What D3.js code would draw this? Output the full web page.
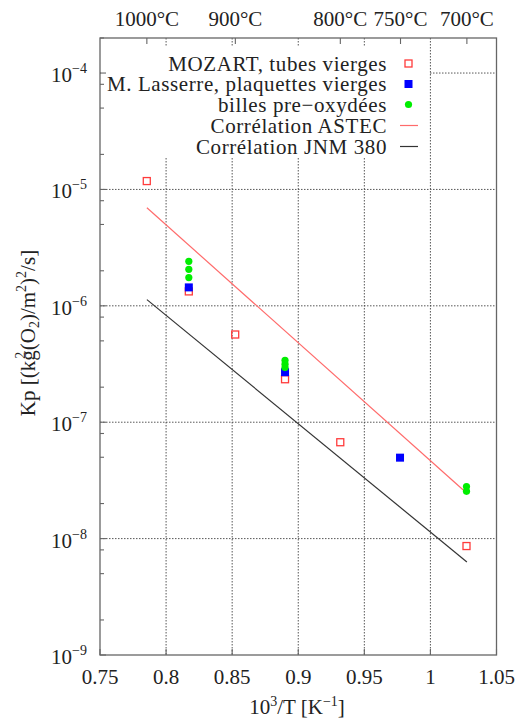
<!DOCTYPE html>
<html>
<head>
<meta charset="utf-8">
<script src="https://cdn.jsdelivr.net/npm/d3@7"></script>
<style>
  html, body { margin: 0; padding: 0; background: #fff; }
  svg { display: block; }
  text { font-family: "Liberation Serif", "Times New Roman", serif; fill: #222; }
</style>
</head>
<body>
<svg id="chart" width="519" height="722"></svg>
<script>
// ---- data ----
const xTickValues = [0.75, 0.8, 0.85, 0.9, 0.95, 1.0, 1.05];
const xTickLabels = ["0.75", "0.8", "0.85", "0.9", "0.95", "1", "1.05"];
const yExponents = [-9, -8, -7, -6, -5, -4];
const minorMultipliers = [2, 5, 8];
const tempC = [1000, 900, 800, 750, 700];
const tempLabels = ["1000°C", "900°C", "800°C", "750°C", "700°C"];

const mozartX = [0.7854, 0.8172, 0.8523, 0.8900, 0.9318, 1.0273];
const mozartY = [1.18e-5, 1.33e-6, 5.67e-7, 2.34e-7, 6.73e-8, 8.63e-9];
const lasserreX = [0.8172, 0.8900, 0.9770];
const lasserreY = [1.44e-6, 2.69e-7, 4.96e-8];
const billesX = [0.8172, 0.8172, 0.8172, 0.8900, 0.8900, 0.8900, 1.0273, 1.0273];
const billesY = [2.41e-6, 2.06e-6, 1.75e-6, 3.4e-7, 3.15e-7, 2.95e-7, 2.8e-8, 2.55e-8];
const astecX = [0.7855, 1.0276];
const astecY = [6.96e-6, 2.45e-8];
const jnmX = [0.7855, 1.0276];
const jnmY = [1.13e-6, 6.3e-9];

const legendLabels = ["MOZART, tubes vierges", "M. Lasserre, plaquettes vierges",
  "billes pre\u2212oxydées", "Corrélation ASTEC", "Corrélation JNM 380"];

// ---- layout ----
const L = 100, R = 496.5, T = 38, B = 655;
const svg = d3.select("#chart");
const x = d3.scaleLinear().domain([0.75, 1.05]).range([L, R]);
const y = d3.scaleLog().domain([1e-9, 2e-4]).range([B, T]);

const gridColor = "#444";
const axisColor = "#666";

// grid
const g = svg.append("g");
xTickValues.slice(1, -1).forEach(v => {
  g.append("line").attr("x1", x(v)).attr("x2", x(v)).attr("y1", T).attr("y2", B)
    .attr("stroke", gridColor).attr("stroke-width", 0.9).attr("stroke-dasharray", "1.5,1.5");
});
yExponents.slice(1).forEach(e => {
  const v = Math.pow(10, e);
  g.append("line").attr("x1", L).attr("x2", R).attr("y1", y(v)).attr("y2", y(v))
    .attr("stroke", gridColor).attr("stroke-width", 0.9).attr("stroke-dasharray", "1.5,1.5");
});

// opaque legend box
svg.append("rect").attr("x", L + 1).attr("y", 47).attr("width", 428 - L).attr("height", 110)
  .attr("fill", "#fff");

// ticks
const ticks = svg.append("g").attr("stroke", axisColor).attr("stroke-width", 1.1);
xTickValues.forEach(v => {
  ticks.append("line").attr("x1", x(v)).attr("x2", x(v)).attr("y1", B).attr("y2", B - 6);
});
tempC.forEach(t => {
  const v = 1000 / (t + 273.15);
  ticks.append("line").attr("x1", x(v)).attr("x2", x(v)).attr("y1", T).attr("y2", T + 6);
});
yExponents.forEach(e => {
  const v = Math.pow(10, e);
  ticks.append("line").attr("x1", L).attr("x2", L + 6).attr("y1", y(v)).attr("y2", y(v));
  minorMultipliers.forEach(m => {
    const mv = m * v;
    if (mv <= 2e-4) {
      ticks.append("line").attr("x1", L).attr("x2", L + 4).attr("y1", y(mv)).attr("y2", y(mv));
    }
  });
});

// frame
svg.append("rect").attr("x", L).attr("y", T).attr("width", R - L).attr("height", B - T)
  .attr("fill", "none").attr("stroke", axisColor).attr("stroke-width", 1.3);

// tick labels
xTickValues.forEach((v, i) => {
  svg.append("text").attr("x", x(v)).attr("y", 684).attr("text-anchor", "middle")
    .attr("font-size", 21).text(xTickLabels[i]);
});
tempC.forEach((t, i) => {
  const v = 1000 / (t + 273.15);
  svg.append("text").attr("x", x(v)).attr("y", 26).attr("text-anchor", "middle")
    .attr("font-size", 21).text(tempLabels[i]);
});
yExponents.forEach(e => {
  const v = Math.pow(10, e);
  const t = svg.append("text").attr("x", 87).attr("y", y(v) + 9).attr("text-anchor", "end")
    .attr("font-size", 21);
  t.append("tspan").text("10");
  t.append("tspan").attr("font-size", 14).attr("dy", -9).text("\u2212" + Math.abs(e));
});

// axis titles
const xt = svg.append("text").attr("x", 297).attr("y", 714).attr("text-anchor", "middle")
  .attr("font-size", 21);
xt.append("tspan").text("10");
xt.append("tspan").attr("font-size", 14).attr("dy", -8).text("3");
xt.append("tspan").attr("dy", 8).text("/T [K");
xt.append("tspan").attr("font-size", 14).attr("dy", -8).text("\u22121");
xt.append("tspan").attr("dy", 8).text("]");

const yt = svg.append("text").attr("transform", "translate(35,333) rotate(-90)")
  .attr("text-anchor", "middle").attr("font-size", 21);
yt.append("tspan").text("Kp [(kg");
yt.append("tspan").attr("font-size", 14).attr("dx", -8.5).attr("dy", -10).text("2");
yt.append("tspan").attr("dx", 1.5).attr("dy", 10).text("(O");
yt.append("tspan").attr("font-size", 14).attr("dy", 4).text("2");
yt.append("tspan").attr("dy", -4).text(")/m");
yt.append("tspan").attr("font-size", 14).attr("dy", -9).text("2");
yt.append("tspan").attr("dy", 9).text(")");
yt.append("tspan").attr("font-size", 14).attr("dy", -9).text("2");
yt.append("tspan").attr("dy", 9).text("/s]");

// lines
const line = d3.line().x(d => x(d[0])).y(d => y(d[1]));
svg.append("path").datum(astecX.map((v, i) => [v, astecY[i]]))
  .attr("d", line).attr("fill", "none").attr("stroke", "#ff6b6b").attr("stroke-width", 1.2);
svg.append("path").datum(jnmX.map((v, i) => [v, jnmY[i]]))
  .attr("d", line).attr("fill", "none").attr("stroke", "#333").attr("stroke-width", 1.2);

// points
const s = 7;
svg.append("g").selectAll("rect").data(mozartX.map((v, i) => [v, mozartY[i]])).join("rect")
  .attr("x", d => x(d[0]) - s / 2).attr("y", d => y(d[1]) - s / 2)
  .attr("width", s).attr("height", s).attr("fill", "none")
  .attr("stroke", "#ff3b3b").attr("stroke-width", 1.3);
const sb = 8;
svg.append("g").selectAll("rect").data(lasserreX.map((v, i) => [v, lasserreY[i]])).join("rect")
  .attr("x", d => x(d[0]) - sb / 2).attr("y", d => y(d[1]) - sb / 2)
  .attr("width", sb).attr("height", sb).attr("fill", "#0000ff");
svg.append("g").selectAll("circle").data(billesX.map((v, i) => [v, billesY[i]])).join("circle")
  .attr("cx", d => x(d[0])).attr("cy", d => y(d[1])).attr("r", 3.6).attr("fill", "#00ee00");

// legend
const rowsY = [63.5, 84, 104.5, 125.5, 146.5];
legendLabels.forEach((lab, i) => {
  svg.append("text").attr("x", 387).attr("y", rowsY[i] + 7).attr("text-anchor", "end")
    .attr("font-size", 21).attr("letter-spacing", 0.6).text(lab);
});
const mx = 408.5;
svg.append("rect").attr("x", mx - s / 2).attr("y", rowsY[0] - s / 2).attr("width", s).attr("height", s)
  .attr("fill", "none").attr("stroke", "#ff3b3b").attr("stroke-width", 1.3);
svg.append("rect").attr("x", mx - sb / 2).attr("y", rowsY[1] - sb / 2).attr("width", sb).attr("height", sb)
  .attr("fill", "#0000ff");
svg.append("circle").attr("cx", mx).attr("cy", rowsY[2]).attr("r", 3.6).attr("fill", "#00ee00");
svg.append("line").attr("x1", 400).attr("x2", 418).attr("y1", rowsY[3]).attr("y2", rowsY[3])
  .attr("stroke", "#ff6b6b").attr("stroke-width", 1.2);
svg.append("line").attr("x1", 400).attr("x2", 418).attr("y1", rowsY[4]).attr("y2", rowsY[4])
  .attr("stroke", "#333").attr("stroke-width", 1.2);
</script>
</body>
</html>
